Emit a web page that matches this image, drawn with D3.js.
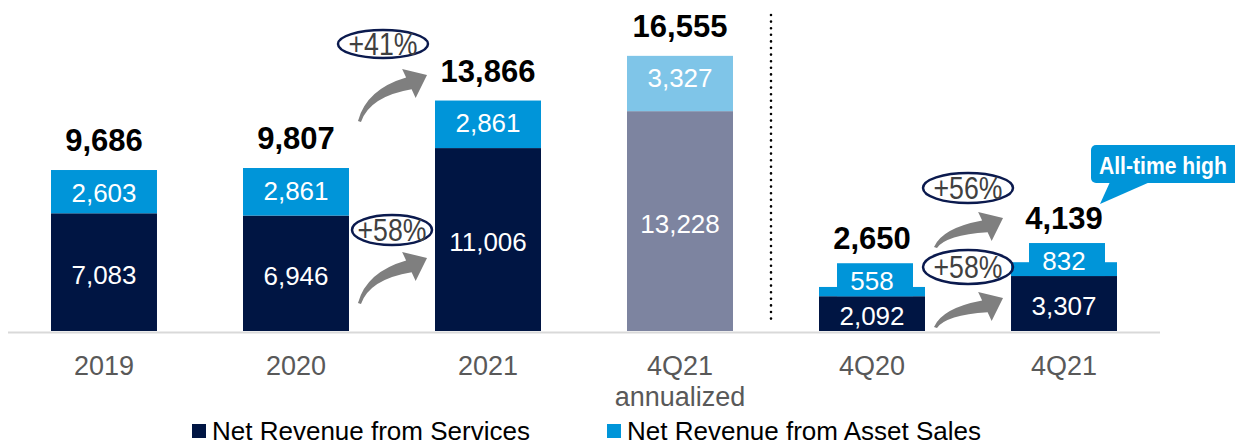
<!DOCTYPE html>
<html>
<head>
<meta charset="utf-8">
<script src="https://cdnjs.cloudflare.com/ajax/libs/d3/7.8.5/d3.min.js"></script>
<style>
  html, body { margin: 0; padding: 0; background: #fff; }
  svg { display: block; font-family: "Liberation Sans", Arial, sans-serif; }
</style>
</head>
<body>
<div id="chart"></div>
<script>
// data
var categories = ['2019', '2020', '2021', '4Q21 annualized', '4Q20', '4Q21'];
var services   = [7083, 6946, 11006, 13228, 2092, 3307];
var assetSales = [2603, 2861, 2861, 3327, 558, 832];
var totals     = [9686, 9807, 13866, 16555, 2650, 4139];
var quarterly  = ['4Q20', '4Q21'];
var growth = [
  { from: '2020', to: '2021', text: '+41%', tail: 121, tip: 75,  ey: 44,  edx: -9, rx: 45, ry: 14 },
  { from: '2020', to: '2021', text: '+58%', tail: 303, tip: 258, ey: 230, edx: 0,  rx: 40, ry: 15 },
  { from: '4Q20', to: '4Q21', text: '+56%', tail: 247, tip: 218, ey: 188, edx: 0,  rx: 45, ry: 15 },
  { from: '4Q20', to: '4Q21', text: '+58%', tail: 327, tip: 298, ey: 267, edx: 0,  rx: 45, ry: 17 }
];
var legendItems = ['Net Revenue from Services', 'Net Revenue from Asset Sales'];

var W = 1235, H = 447;
var navy = '#001543', blue = '#0095d9', navyAnn = '#7d84a0', blueAnn = '#7fc5e8';
var fmt = d3.format(',');

var svg = d3.select('#chart').append('svg')
  .attr('width', W).attr('height', H);

var x = d3.scaleBand().domain(categories).range([51, 1117]).paddingInner(0.448).paddingOuter(0);
var bw = x.bandwidth();
var y = d3.scaleLinear().domain([0, 17000]).range([331, 331 - 17000 * 0.01662]);

var rows = categories.map(function (c, i) {
  return { cat: c, s: services[i], a: assetSales[i], t: totals[i], q: quarterly.indexOf(c) >= 0, ann: c.indexOf('annualized') >= 0 };
});

// baseline
svg.append('line')
  .attr('x1', 8).attr('x2', 1160).attr('y1', y(0) + 1.5).attr('y2', y(0) + 1.5)
  .attr('stroke', '#d9d9d9').attr('stroke-width', 2);

// dotted separator
var sepX = (x('4Q21 annualized') + bw + x('4Q20')) / 2 - 5;
svg.append('line')
  .attr('x1', sepX).attr('x2', sepX).attr('y1', 15).attr('y2', 322)
  .attr('stroke', '#000').attr('stroke-width', 2.6)
  .attr('stroke-linecap', 'round').attr('stroke-dasharray', '0 6.6');

var bars = svg.append('g').selectAll('g').data(rows).enter().append('g');

// services segment
bars.append('rect')
  .attr('x', function (d) { return x(d.cat); })
  .attr('width', bw)
  .attr('y', function (d) { return y(d.s); })
  .attr('height', function (d) { return y(0) - y(d.s); })
  .attr('fill', function (d) { return d.ann ? navyAnn : navy; });

// asset sales segment
bars.append('rect')
  .attr('x', function (d) { return x(d.cat); })
  .attr('width', bw)
  .attr('y', function (d) { return y(d.s + d.a); })
  .attr('height', function (d) { return y(d.s) - y(d.s + d.a); })
  .attr('fill', function (d) { return d.ann ? blueAnn : blue; });

// label box for thin quarterly segments
bars.filter(function (d) { return d.q; }).append('rect')
  .attr('x', function (d) { return x(d.cat) + 18; })
  .attr('width', bw - 30)
  .attr('y', function (d) { return y(d.s) - 33; })
  .attr('height', 33)
  .attr('fill', blue);

// segment labels
bars.append('text')
  .attr('x', function (d) { return x(d.cat) + bw / 2; })
  .attr('y', function (d) { return (y(d.s) + y(0)) / 2 + 11.5; })
  .attr('text-anchor', 'middle').attr('fill', '#fff').attr('font-size', 26)
  .text(function (d) { return fmt(d.s); });

bars.append('text')
  .attr('x', function (d) { return x(d.cat) + bw / 2; })
  .attr('y', function (d) { return d.q ? y(d.s) - 33 + 26.5 : y(d.s + d.a) + 31.5; })
  .attr('text-anchor', 'middle').attr('fill', '#fff').attr('font-size', 26)
  .text(function (d) { return fmt(d.a); });

// totals
bars.append('text')
  .attr('x', function (d) { return x(d.cat) + bw / 2; })
  .attr('y', function (d) { return d.q ? y(d.s) - 47 : y(d.s + d.a) - 19; })
  .attr('text-anchor', 'middle').attr('fill', '#000').attr('font-size', 31).attr('font-weight', 'bold')
  .text(function (d) { return fmt(d.t); });

// category axis
var axis = svg.append('g')
  .attr('transform', 'translate(0,' + (y(0) + 1) + ')')
  .call(d3.axisBottom(x).tickSize(0).tickPadding(0));
axis.select('.domain').remove();
axis.selectAll('text').each(function (d) {
  var t = d3.select(this).text('').attr('y', 0).attr('dy', null)
    .attr('fill', '#595959').attr('font-size', 27).attr('font-family', '"Liberation Sans", Arial, sans-serif');
  d.split(' ').forEach(function (w, i) {
    t.append('tspan').attr('x', 0).attr('y', 43 + i * 31).text(w);
  });
});

// growth arrows and bubbles
function arrowPath(tx, ty, px, py) {
  var a = -25 * Math.PI / 180, d = [Math.cos(a), Math.sin(a)], n = [-d[1], d[0]];
  var bx = px - 20 * d[0], by = py - 20 * d[1];
  var cx = tx + 0.2 * (bx - tx), cy = by + 0.25 * (ty - by);
  function p(x0, y0, k) { return (x0 + k * n[0]) + ',' + (y0 + k * n[1]); }
  return 'M' + tx + ',' + ty +
    'Q' + p(cx, cy, -4) + ' ' + p(bx, by, -6.5) +
    'L' + p(bx, by, -16) + 'L' + px + ',' + py + 'L' + p(bx, by, 16) +
    'L' + p(bx, by, 6.5) +
    'Q' + p(cx, cy, 4) + ' ' + (tx + 3) + ',' + (ty + 1) + 'Z';
}

function bubbleX(d) { return (x(d.from) + bw + x(d.to)) / 2 + d.edx; }

var ann = svg.append('g').selectAll('g').data(growth).enter().append('g');
ann.append('path')
  .attr('d', function (d) {
    var g0 = x(d.from) + bw, g1 = x(d.to);
    return arrowPath(g0 + 9, d.tail, g1 - 8, d.tip);
  })
  .attr('fill', '#7f7f7f');
ann.append('ellipse')
  .attr('cx', bubbleX)
  .attr('cy', function (d) { return d.ey; })
  .attr('rx', function (d) { return d.rx; })
  .attr('ry', function (d) { return d.ry; })
  .attr('fill', 'none').attr('stroke', '#0b1a4e').attr('stroke-width', 2.5);
ann.append('text')
  .attr('transform', function (d) { return 'translate(' + bubbleX(d) + ',' + (d.ey + 11) + ') scale(0.86,1)'; })
  .attr('text-anchor', 'middle').attr('fill', '#404040').attr('font-size', 31)
  .text(function (d) { return d.text; });

// callout
var call = svg.append('g');
call.append('path')
  .attr('d', 'M1110,182 L1100,204 L1150,182 Z').attr('fill', blue);
call.append('rect')
  .attr('x', 1091).attr('y', 145).attr('width', 160).attr('height', 38).attr('rx', 5)
  .attr('fill', blue);
call.append('text')
  .attr('transform', 'translate(1099,174) scale(0.88,1)')
  .attr('fill', '#fff').attr('font-size', 24).attr('font-weight', 'bold')
  .text('All-time high');

// legend
var legend = svg.append('g').selectAll('g').data(legendItems).enter().append('g')
  .attr('transform', function (d, i) { return 'translate(' + [192, 607][i] + ',0)'; });
legend.append('rect')
  .attr('x', 0).attr('y', 424).attr('width', 14).attr('height', 14)
  .attr('fill', function (d, i) { return i ? blue : navy; });
legend.append('text')
  .attr('x', 20).attr('y', 440).attr('font-size', 26).attr('fill', '#000')
  .text(function (d) { return d; });
</script>
</body>
</html>
